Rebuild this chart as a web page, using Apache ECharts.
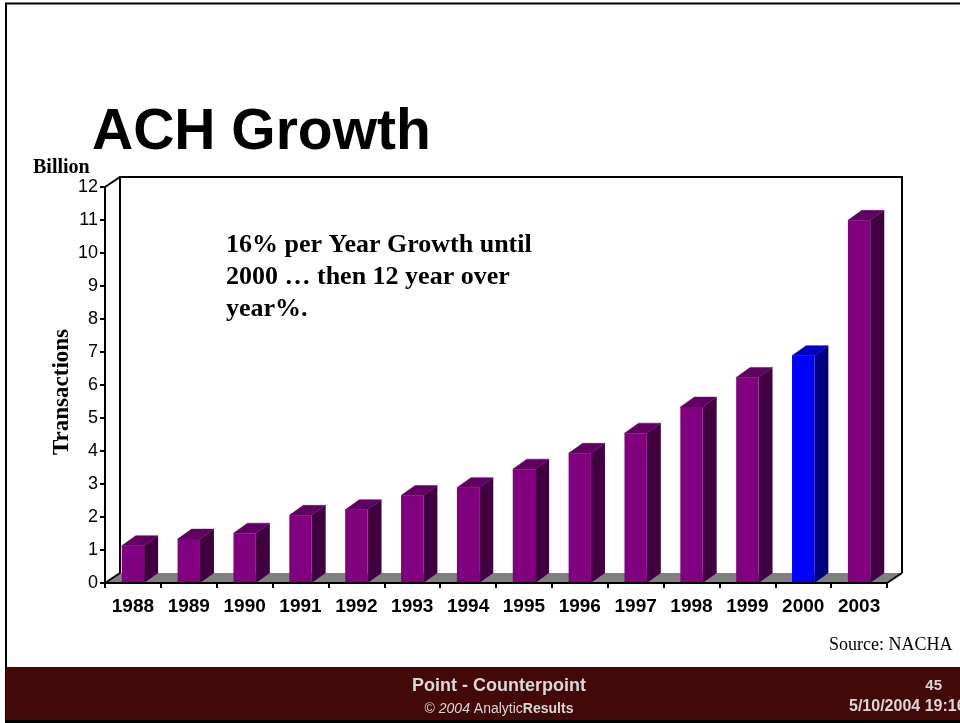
<!DOCTYPE html>
<html>
<head>
<meta charset="utf-8">
<title>ACH Growth</title>
<script src="https://cdn.jsdelivr.net/npm/echarts@6/dist/echarts.min.js"></script>
<style>
  html, body { margin: 0; padding: 0; background: #ffffff; }
  #chart { width: 960px; height: 723px; }
</style>
</head>
<body>
<div id="chart"></div>
<script>
// ACH transaction volume, billions
const years = ['1988', '1989', '1990', '1991', '1992', '1993', '1994',
               '1995', '1996', '1997', '1998', '1999', '2000', '2003'];
const transactions = [1.13, 1.33, 1.51, 2.05, 2.22, 2.65, 2.89,
                      3.45, 3.93, 4.54, 5.33, 6.23, 6.89, 10.99];
const highlightYear = '2000';

const yMin = 0;
const yMax = 12;
const yStep = 1;

// depth of the 3-D box (pixels)
const DX = 15, DY = -10;
const BAR_DX = 14, BAR_DY = -10;

const faces = {
  normal: { front: '#800080', side: '#400040', top: '#600060' },
  highlight: { front: '#0000ff', side: '#000080', top: '#0000c0' }
};

const chart = echarts.init(document.getElementById('chart'), null, { renderer: 'canvas' });

function renderBox(params, api) {
  const cs = params.coordSys;
  const x = cs.x, y = cs.y, w = cs.width, h = cs.height;
  const yb = y + h;
  const line = { stroke: '#000', lineWidth: 2, fill: null };
  return {
    type: 'group',
    children: [
      // floor
      { type: 'polygon', shape: { points: [[x, yb], [x + w, yb], [x + w + DX, yb + DY], [x + DX, yb + DY]] },
        style: { fill: '#808080' } },
      { type: 'line', shape: { x1: x, y1: yb, x2: x + DX, y2: yb + DY }, style: line },
      { type: 'line', shape: { x1: x + w, y1: yb, x2: x + w + DX, y2: yb + DY }, style: line },
      // back wall outline
      { type: 'polyline', shape: { points: [[x + DX, yb + DY], [x + DX, y + DY], [x + w + DX, y + DY], [x + w + DX, yb + DY]] },
        style: line },
      // side wall top edge
      { type: 'line', shape: { x1: x, y1: y, x2: x + DX, y2: y + DY }, style: line }
    ]
  };
}

function renderBar(params, api) {
  const i = api.value(0);
  const v = api.value(1);
  const base = api.coord([i, 0]);
  const top = api.coord([i, v]);
  const bw = api.size([1, 0])[0] * 0.4;
  const x0 = base[0] - bw / 2, x1 = base[0] + bw / 2;
  const yb = base[1], yt = top[1];
  const c = years[i] === highlightYear ? faces.highlight : faces.normal;
  return {
    type: 'group',
    children: [
      { type: 'polygon', shape: { points: [[x1, yb], [x1 + BAR_DX, yb + BAR_DY], [x1 + BAR_DX, yt + BAR_DY], [x1, yt]] },
        style: { fill: c.side } },
      { type: 'polygon', shape: { points: [[x0, yt], [x1, yt], [x1 + BAR_DX, yt + BAR_DY], [x0 + BAR_DX, yt + BAR_DY]] },
        style: { fill: c.top, stroke: c.top, lineWidth: 0.5 } },
      { type: 'rect', shape: { x: x0, y: yt, width: bw, height: yb - yt },
        style: { fill: c.front } }
    ]
  };
}

const option = {
  animation: false,
  backgroundColor: '#ffffff',
  title: {
    text: 'ACH Growth',
    left: 87,
    top: 100,
    textStyle: { fontFamily: 'Liberation Sans, Arial, sans-serif', fontWeight: 'bold', fontSize: 57, color: '#000' }
  },
  grid: { left: 105, right: 73, top: 187, bottom: 140 },
  xAxis: {
    type: 'category',
    data: years,
    boundaryGap: true,
    z: 5,
    axisLine: { show: true, lineStyle: { color: '#000', width: 2 } },
    axisTick: { show: true, alignWithLabel: false, interval: 0, length: 5, lineStyle: { color: '#000', width: 2 } },
    axisLabel: { interval: 0, margin: 14, color: '#000', fontFamily: 'Liberation Sans, Arial, sans-serif', fontWeight: 'bold', fontSize: 19 },
    splitLine: { show: false }
  },
  yAxis: {
    type: 'value',
    min: yMin,
    max: yMax,
    interval: yStep,
    z: 5,
    axisLine: { show: true, lineStyle: { color: '#000', width: 2 } },
    axisTick: { show: true, length: 5, lineStyle: { color: '#000', width: 2 } },
    axisLabel: { margin: 7, color: '#000', fontFamily: 'Liberation Sans, Arial, sans-serif', fontSize: 18 },
    splitLine: { show: false }
  },
  series: [
    {
      type: 'custom',
      name: 'box',
      z: 1,
      clip: false,
      silent: true,
      renderItem: renderBox,
      data: [[0, 0]]
    },
    {
      type: 'custom',
      name: 'Transactions',
      z: 2,
      clip: false,
      renderItem: renderBar,
      encode: { x: 0, y: 1 },
      data: years.map((y, i) => [i, transactions[i]])
    }
  ],
  graphic: [
    // slide frame
    { type: 'line', shape: { x1: 5, y1: 3.5, x2: 960, y2: 3.5 }, style: { stroke: '#000', lineWidth: 2 }, z: 10 },
    { type: 'line', shape: { x1: 6, y1: 3, x2: 6, y2: 723 }, style: { stroke: '#000', lineWidth: 2 }, z: 10 },
    // footer band
    { type: 'rect', shape: { x: 6, y: 667, width: 954, height: 54 }, style: { fill: '#430909' }, z: 10 },
    { type: 'rect', shape: { x: 5, y: 720, width: 955, height: 3 }, style: { fill: '#000' }, z: 10 },
    {
      type: 'text', z: 11,
      style: { x: 499, y: 686, text: 'Point - Counterpoint', textAlign: 'center', textVerticalAlign: 'middle',
               font: 'bold 18px "Liberation Sans", Arial, sans-serif', fill: '#d8d8d8' }
    },
    {
      type: 'text', z: 11,
      style: {
        x: 499, y: 709, textAlign: 'center', textVerticalAlign: 'middle',
        text: '{n|© }{i|2004}{n| Analytic}{b|Results}',
        fill: '#d8d8d8',
        rich: {
          n: { font: '14px "Liberation Sans", Arial, sans-serif', fill: '#d8d8d8' },
          i: { font: 'italic 14px "Liberation Sans", Arial, sans-serif', fill: '#d8d8d8' },
          b: { font: 'bold 14px "Liberation Sans", Arial, sans-serif', fill: '#d8d8d8' }
        }
      }
    },
    {
      type: 'text', z: 11,
      style: { x: 942, y: 686, text: '45', textAlign: 'right', textVerticalAlign: 'middle',
               font: 'bold 15px "Liberation Sans", Arial, sans-serif', fill: '#d8d8d8' }
    },
    {
      type: 'text', z: 11,
      style: { x: 849, y: 707, text: '5/10/2004 19:16', textAlign: 'left', textVerticalAlign: 'middle',
               font: 'bold 16px "Liberation Sans", Arial, sans-serif', fill: '#d8d8d8' }
    },
    // axis unit and title
    {
      type: 'text', z: 11,
      style: { x: 33, y: 168, text: 'Billion', textAlign: 'left', textVerticalAlign: 'middle',
               font: 'bold 20px "Liberation Serif", "Times New Roman", serif', fill: '#000' }
    },
    {
      type: 'text', z: 11,
      x: 62, y: 392, rotation: Math.PI / 2,
      style: { x: 0, y: 0, text: 'Transactions', textAlign: 'center', textVerticalAlign: 'middle',
               font: 'bold 23px "Liberation Serif", "Times New Roman", serif', fill: '#000' }
    },
    // annotation
    {
      type: 'text', z: 11,
      style: { x: 226, y: 229, text: '16% per Year Growth until\n2000 … then 12 year over\nyear%.',
               textAlign: 'left', textVerticalAlign: 'top', lineHeight: 32,
               font: 'bold 26px "Liberation Serif", "Times New Roman", serif', fill: '#000' }
    },
    // source note
    {
      type: 'text', z: 11,
      style: { x: 829, y: 645, text: 'Source: NACHA', textAlign: 'left', textVerticalAlign: 'middle',
               font: '18px "Liberation Serif", "Times New Roman", serif', fill: '#000' }
    }
  ]
};

chart.setOption(option);
</script>
</body>
</html>
